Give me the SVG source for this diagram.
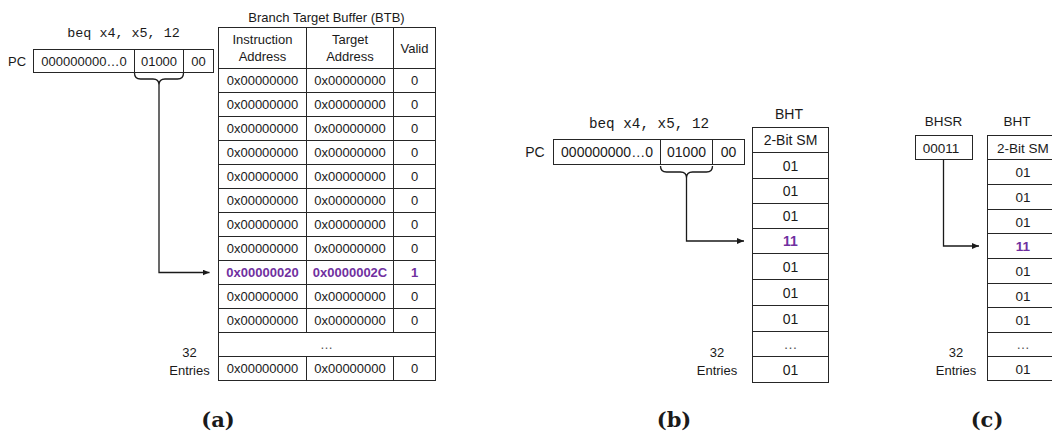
<svg xmlns="http://www.w3.org/2000/svg" width="1052" height="435" viewBox="0 0 1052 435">
<style>
.t{font-family:"Liberation Sans",Arial,sans-serif;font-size:13px;fill:#1a1a1a;text-anchor:middle}
.b{font-size:14px}
.c{font-size:13.5px}
.mono{font-family:"Liberation Mono","DejaVu Sans Mono",monospace;fill:#1a1a1a;text-anchor:middle}
.hl{fill:#7030A0;font-weight:bold}
.dots{fill:#555}
.box{fill:#fff;stroke:#262626;stroke-width:1}
.ln{fill:none;stroke:#262626;stroke-width:1}
.con{fill:none;stroke:#1a1a1a;stroke-width:1.3}
.cap{font-family:"DejaVu Serif","Liberation Serif",serif;font-weight:bold;font-size:21px;fill:#1a1a1a;text-anchor:middle}
</style>
<defs>
<marker id="arr" markerUnits="userSpaceOnUse" markerWidth="7" markerHeight="6" refX="7" refY="3" orient="auto">
<path d="M0,0 L7,3 L0,6 z" fill="#1a1a1a"/>
</marker>
</defs>

<!-- Panel (a) -->
<g id="instr-a">
<text class="mono" x="123.5" y="37" font-size="13.4">beq x4, x5, 12</text>
</g>
<g id="pc-a">
<text class="t" x="17" y="65.5">PC</text>
<rect class="box" x="33.5" y="49.5" width="180" height="23"/>
<line class="ln" x1="134.5" y1="49.5" x2="134.5" y2="72.5"/>
<line class="ln" x1="183.5" y1="49.5" x2="183.5" y2="72.5"/>
<text class="t" x="84" y="65.5">000000000…0</text>
<text class="t" x="159" y="65.5">01000</text>
<text class="t" x="198.5" y="65.5">00</text>
</g>
<g id="btb">
<text class="t" x="326.5" y="21.5">Branch Target Buffer (BTB)</text>
<rect class="box" x="218.5" y="27.5" width="217" height="353"/>
<g class="ln">
<line x1="218.5" y1="68.5" x2="435.5" y2="68.5"/>
<line x1="218.5" y1="92.5" x2="435.5" y2="92.5"/>
<line x1="218.5" y1="116.5" x2="435.5" y2="116.5"/>
<line x1="218.5" y1="140.5" x2="435.5" y2="140.5"/>
<line x1="218.5" y1="164.5" x2="435.5" y2="164.5"/>
<line x1="218.5" y1="188.5" x2="435.5" y2="188.5"/>
<line x1="218.5" y1="212.5" x2="435.5" y2="212.5"/>
<line x1="218.5" y1="236.5" x2="435.5" y2="236.5"/>
<line x1="218.5" y1="260.5" x2="435.5" y2="260.5"/>
<line x1="218.5" y1="284.5" x2="435.5" y2="284.5"/>
<line x1="218.5" y1="308.5" x2="435.5" y2="308.5"/>
<line x1="218.5" y1="332.5" x2="435.5" y2="332.5"/>
<line x1="218.5" y1="356.5" x2="435.5" y2="356.5"/>
<line x1="306.5" y1="27.5" x2="306.5" y2="332.5"/>
<line x1="393.5" y1="27.5" x2="393.5" y2="332.5"/>
<line x1="306.5" y1="356.5" x2="306.5" y2="380.5"/>
<line x1="393.5" y1="356.5" x2="393.5" y2="380.5"/>
</g>
<text class="t" x="262.5" y="43.5">Instruction</text>
<text class="t" x="262.5" y="61">Address</text>
<text class="t" x="350" y="43.5">Target</text>
<text class="t" x="350" y="61">Address</text>
<text class="t" x="414.5" y="53">Valid</text>
<g class="t">
<text x="262.5" y="85">0x00000000</text><text x="350" y="85">0x00000000</text><text x="414.5" y="85">0</text>
<text x="262.5" y="109">0x00000000</text><text x="350" y="109">0x00000000</text><text x="414.5" y="109">0</text>
<text x="262.5" y="133">0x00000000</text><text x="350" y="133">0x00000000</text><text x="414.5" y="133">0</text>
<text x="262.5" y="157">0x00000000</text><text x="350" y="157">0x00000000</text><text x="414.5" y="157">0</text>
<text x="262.5" y="181">0x00000000</text><text x="350" y="181">0x00000000</text><text x="414.5" y="181">0</text>
<text x="262.5" y="205">0x00000000</text><text x="350" y="205">0x00000000</text><text x="414.5" y="205">0</text>
<text x="262.5" y="229">0x00000000</text><text x="350" y="229">0x00000000</text><text x="414.5" y="229">0</text>
<text x="262.5" y="253">0x00000000</text><text x="350" y="253">0x00000000</text><text x="414.5" y="253">0</text>
<text class="hl" x="262.5" y="277">0x00000020</text><text class="hl" x="350" y="277">0x0000002C</text><text class="hl" x="414.5" y="277">1</text>
<text x="262.5" y="301">0x00000000</text><text x="350" y="301">0x00000000</text><text x="414.5" y="301">0</text>
<text x="262.5" y="325">0x00000000</text><text x="350" y="325">0x00000000</text><text x="414.5" y="325">0</text>
<text class="dots" x="326.5" y="349">…</text>
<text x="262.5" y="373">0x00000000</text><text x="350" y="373">0x00000000</text><text x="414.5" y="373">0</text>
</g>
</g>
<g id="entries-a">
<text class="t" x="189.5" y="357">32</text>
<text class="t" x="189.5" y="375">Entries</text>
</g>

<!-- Panel (b) -->
<g id="instr-b">
<text class="mono" x="649" y="128" font-size="14.3">beq x4, x5, 12</text>
</g>
<g id="pc-b">
<text class="t b" x="535" y="157">PC</text>
<rect class="box" x="553.5" y="139.5" width="191" height="25"/>
<line class="ln" x1="660.5" y1="139.5" x2="660.5" y2="164.5"/>
<line class="ln" x1="712.5" y1="139.5" x2="712.5" y2="164.5"/>
<text class="t b" x="607" y="157">000000000…0</text>
<text class="t b" x="686.5" y="157">01000</text>
<text class="t b" x="728.5" y="157">00</text>
</g>
<g id="bht-b">
<text class="t b" x="789" y="119">BHT</text>
<rect class="box" x="752.5" y="127.5" width="76" height="255"/>
<g class="ln">
<line x1="752.5" y1="152.5" x2="828.5" y2="152.5"/>
<line x1="752.5" y1="178.5" x2="828.5" y2="178.5"/>
<line x1="752.5" y1="203.5" x2="828.5" y2="203.5"/>
<line x1="752.5" y1="228.5" x2="828.5" y2="228.5"/>
<line x1="752.5" y1="253.5" x2="828.5" y2="253.5"/>
<line x1="752.5" y1="279.5" x2="828.5" y2="279.5"/>
<line x1="752.5" y1="305.5" x2="828.5" y2="305.5"/>
<line x1="752.5" y1="331.5" x2="828.5" y2="331.5"/>
<line x1="752.5" y1="356.5" x2="828.5" y2="356.5"/>
</g>
<g class="t b">
<text x="790.5" y="145">2-Bit SM</text>
<text x="790.5" y="170.5">01</text>
<text x="790.5" y="196">01</text>
<text x="790.5" y="221">01</text>
<text class="hl" x="790.5" y="246">11</text>
<text x="790.5" y="271.5">01</text>
<text x="790.5" y="297.5">01</text>
<text x="790.5" y="323.5">01</text>
<text class="dots" x="790.5" y="348.5">…</text>
<text x="790.5" y="374.5">01</text>
</g>
</g>
<g id="entries-b">
<text class="t" x="717" y="357">32</text>
<text class="t" x="717" y="375">Entries</text>
</g>

<!-- Panel (c) -->
<g id="bhsr-c">
<text class="t c" x="943.5" y="126">BHSR</text>
<rect class="box" x="915.5" y="135.5" width="57" height="24"/>
<text class="t c" x="941" y="152.5">00011</text>
</g>
<g id="bht-c">
<text class="t c" x="1017" y="126">BHT</text>
<rect class="box" x="987.5" y="135.5" width="73" height="245"/>
<g class="ln">
<line x1="987.5" y1="159.5" x2="1060.5" y2="159.5"/>
<line x1="987.5" y1="184.5" x2="1060.5" y2="184.5"/>
<line x1="987.5" y1="209.5" x2="1060.5" y2="209.5"/>
<line x1="987.5" y1="233.5" x2="1060.5" y2="233.5"/>
<line x1="987.5" y1="258.5" x2="1060.5" y2="258.5"/>
<line x1="987.5" y1="283.5" x2="1060.5" y2="283.5"/>
<line x1="987.5" y1="307.5" x2="1060.5" y2="307.5"/>
<line x1="987.5" y1="332.5" x2="1060.5" y2="332.5"/>
<line x1="987.5" y1="356.5" x2="1060.5" y2="356.5"/>
</g>
<g class="t c">
<text x="1023" y="152.5">2-Bit SM</text>
<text x="1023" y="177">01</text>
<text x="1023" y="202">01</text>
<text x="1023" y="226.5">01</text>
<text class="hl" x="1023" y="251">11</text>
<text x="1023" y="276">01</text>
<text x="1023" y="300.5">01</text>
<text x="1023" y="325">01</text>
<text class="dots" x="1023" y="349">…</text>
<text x="1023" y="373.5">01</text>
</g>
</g>
<g id="entries-c">
<text class="t" x="956" y="357">32</text>
<text class="t" x="956" y="375">Entries</text>
</g>

<!-- Connectors -->
<g id="connectors">
<path class="con" d="M134.5,73 Q134.5,79 140.5,79 H153 Q159,79 159,85 Q159,79 165,79 H177.5 Q183.5,79 183.5,73"/>
<path class="con" d="M159,85 V272.5 H209.5" marker-end="url(#arr)"/>
<path class="con" d="M660.5,166 Q660.5,172 666.5,172 H680.5 Q686.5,172 686.5,178 Q686.5,172 692.5,172 H706.5 Q712.5,172 712.5,166"/>
<path class="con" d="M686.5,178 V241 H744" marker-end="url(#arr)"/>
<path class="con" d="M943.5,159.5 V246 H979" marker-end="url(#arr)"/>
</g>

<!-- Captions -->
<g id="captions">
<text class="cap" x="218" y="427">(a)</text>
<text class="cap" x="674" y="427">(b)</text>
<text class="cap" x="987" y="427">(c)</text>
</g>
</svg>
